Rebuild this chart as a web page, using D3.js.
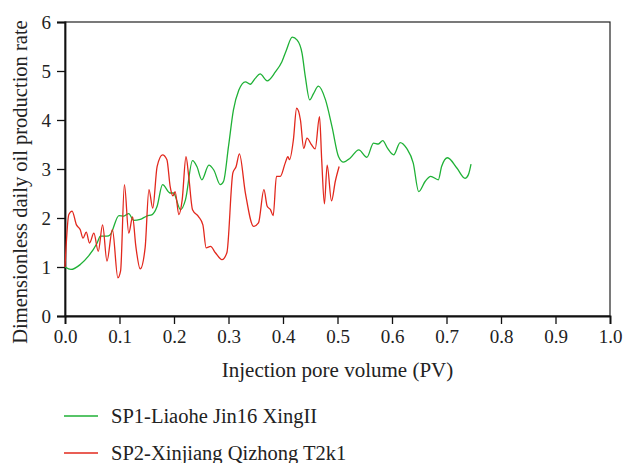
<!DOCTYPE html>
<html>
<head>
<meta charset="utf-8">
<script src="https://cdn.jsdelivr.net/npm/d3@7"></script>
<style>
  body { margin: 0; background: #fff; }
  text { font-family: "Liberation Serif", "DejaVu Serif", serif; fill: #222; }
</style>
</head>
<body>
<div class="viz"></div>
<script>
// data: [PV, rate]
var sp1Pv = [0, 0.011, 0.028, 0.043, 0.059, 0.065, 0.077, 0.083, 0.099, 0.108, 0.117, 0.126, 0.138, 0.150, 0.160, 0.169, 0.179, 0.193, 0.199, 0.212, 0.221, 0.234, 0.242, 0.251, 0.264, 0.273, 0.285, 0.291, 0.300, 0.309, 0.319, 0.331, 0.340, 0.349, 0.358, 0.371, 0.386, 0.398, 0.406, 0.417, 0.426, 0.435, 0.441, 0.449, 0.456, 0.465, 0.478, 0.490, 0.502, 0.511, 0.523, 0.539, 0.554, 0.566, 0.575, 0.583, 0.592, 0.603, 0.615, 0.627, 0.639, 0.649, 0.661, 0.671, 0.685, 0.691, 0.702, 0.719, 0.734, 0.740, 0.745];
var sp1Rate = [1.0, 0.95, 1.05, 1.22, 1.49, 1.63, 1.63, 1.66, 2.05, 2.04, 2.09, 1.95, 1.97, 2.04, 2.07, 2.24, 2.68, 2.51, 2.51, 2.17, 2.37, 3.17, 3.05, 2.78, 3.08, 2.98, 2.68, 2.75, 3.46, 4.20, 4.61, 4.78, 4.73, 4.85, 4.94, 4.80, 4.98, 5.19, 5.42, 5.69, 5.63, 5.36, 4.88, 4.41, 4.54, 4.69, 4.41, 3.86, 3.25, 3.14, 3.22, 3.39, 3.24, 3.53, 3.51, 3.58, 3.42, 3.29, 3.54, 3.42, 3.12, 2.54, 2.75, 2.85, 2.78, 3.05, 3.23, 3.02, 2.81, 2.88, 3.10];

var sp2Pv = [0, 0.007, 0.013, 0.021, 0.028, 0.033, 0.039, 0.045, 0.053, 0.061, 0.069, 0.077, 0.087, 0.097, 0.102, 0.109, 0.117, 0.124, 0.130, 0.138, 0.147, 0.154, 0.161, 0.169, 0.179, 0.187, 0.193, 0.198, 0.202, 0.209, 0.215, 0.222, 0.227, 0.234, 0.245, 0.253, 0.259, 0.267, 0.276, 0.288, 0.297, 0.308, 0.314, 0.320, 0.331, 0.346, 0.355, 0.365, 0.371, 0.377, 0.382, 0.388, 0.395, 0.404, 0.409, 0.412, 0.419, 0.425, 0.432, 0.438, 0.444, 0.452, 0.459, 0.467, 0.471, 0.476, 0.481, 0.489, 0.496, 0.503];
var sp2Rate = [1.0, 2.07, 2.14, 1.86, 1.76, 1.59, 1.71, 1.49, 1.69, 1.32, 1.86, 1.12, 1.76, 0.78, 0.92, 2.68, 1.69, 2.02, 1.42, 0.96, 1.39, 2.58, 2.20, 3.05, 3.29, 3.19, 2.64, 2.45, 2.54, 2.07, 2.37, 3.25, 2.85, 2.17, 2.03, 1.86, 1.39, 1.42, 1.29, 1.15, 1.29, 2.92, 3.05, 3.31, 2.51, 1.83, 1.90, 2.58, 2.24, 2.17, 2.05, 2.85, 2.85, 3.12, 3.25, 3.19, 3.59, 4.24, 4.00, 3.42, 3.63, 3.50, 3.41, 4.07, 3.19, 2.29, 3.08, 2.35, 2.75, 3.05];

var xTicks = [0, 0.1, 0.2, 0.3, 0.4, 0.5, 0.6, 0.7, 0.8, 0.9, 1.0];
var yTicks = [0, 1, 2, 3, 4, 5, 6];

var series = [
  { name: 'SP1-Liaohe Jin16 XingII', color: '#1fb136', x: sp1Pv, y: sp1Rate },
  { name: 'SP2-Xinjiang Qizhong T2k1', color: '#e2281d', x: sp2Pv, y: sp2Rate }
];

var serif = '"Liberation Serif", "DejaVu Serif", serif';

var margin = {top: 22, right: 13, bottom: 147, left: 65};
var width = 623 - margin.left - margin.right;
var height = 463 - margin.top - margin.bottom;

var svg = d3.select('.viz')
  .append('svg')
  .attr('width', 623)
  .attr('height', 463);

var g = svg.append('g')
  .attr('transform', 'translate(' + margin.left + ',' + margin.top + ')');

var xScale = d3.scaleLinear().domain([0, 1]).range([0, width]);
var yScale = d3.scaleLinear().domain([0, 6]).range([height, 0]);

// frame
g.append('rect')
  .attr('width', width)
  .attr('height', height)
  .attr('fill', 'none')
  .attr('stroke', '#222')
  .attr('stroke-width', 1.2);

// axes
var xAxis = g.append('g')
  .attr('transform', 'translate(0,' + height + ')')
  .call(d3.axisBottom(xScale).tickValues(xTicks).tickFormat(d3.format('.1f')).tickSizeOuter(0).tickSize(8).tickPadding(6));

var yAxis = g.append('g')
  .call(d3.axisLeft(yScale).tickValues(yTicks).tickFormat(d3.format('d')).tickSizeOuter(0).tickSize(8).tickPadding(6));

[xAxis, yAxis].forEach(function(a) {
  a.attr('font-family', serif).attr('font-size', 19);
  a.select('.domain').attr('stroke', '#111').attr('stroke-width', 1.8);
  a.selectAll('.tick line').attr('stroke', '#111').attr('stroke-width', 1.3);
  a.selectAll('.tick text').style('font-family', serif).style('font-size', '19px').attr('fill', '#222');
});

// lines
var line = d3.line()
  .x(function(d) { return xScale(d[0]); })
  .y(function(d) { return yScale(d[1]); })
  .curve(d3.curveMonotoneX);

series.forEach(function(s) {
  var pts = s.x.map(function(v, i) { return [v, s.y[i]]; });
  g.append('path')
    .datum(pts)
    .attr('fill', 'none')
    .attr('stroke', s.color)
    .attr('stroke-width', 1.3)
    .attr('d', line);
});

// axis labels
svg.append('text')
  .attr('x', margin.left + width / 2)
  .attr('y', 377)
  .attr('text-anchor', 'middle')
  .style('font-size', '21px')
  .text('Injection pore volume (PV)');

svg.append('text')
  .attr('transform', 'translate(27,182) rotate(-90)')
  .attr('text-anchor', 'middle')
  .style('font-size', '20.5px')
  .text('Dimensionless daily oil production rate');

// legend
var legend = svg.append('g');
series.forEach(function(s, i) {
  var ly = 416 + i * 37;
  legend.append('line')
    .attr('x1', 64).attr('x2', 98)
    .attr('y1', ly).attr('y2', ly)
    .attr('stroke', s.color)
    .attr('stroke-width', 1.4);
  legend.append('text')
    .attr('x', 111)
    .attr('y', ly + 7)
    .style('font-size', '20.5px')
    .text(s.name);
});
</script>
</body>
</html>
